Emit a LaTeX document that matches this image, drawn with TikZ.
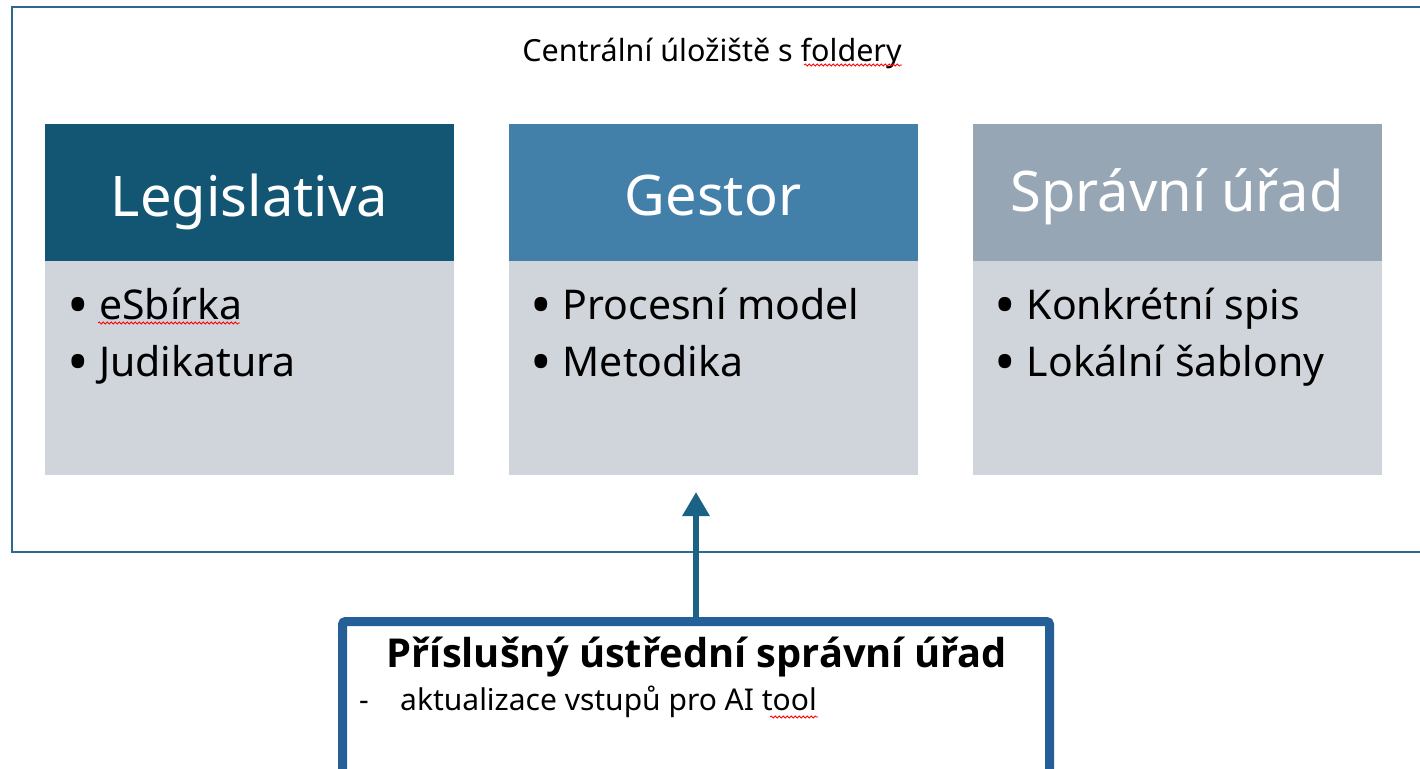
\documentclass[tikz,border=0pt]{standalone}
\usepackage{fontspec}
\setmainfont{Noto Sans}
\newfontfamily\boldsans{Open Sans}
\usetikzlibrary{arrows.meta,decorations.pathmorphing}
\definecolor{frameC}{HTML}{2A6A8C}
\definecolor{legC}{HTML}{135674}
\definecolor{gesC}{HTML}{4280AA}
\definecolor{sprC}{HTML}{97A6B4}
\definecolor{bodyC}{HTML}{D0D5DC}
\definecolor{arrC}{HTML}{1B6284}
\definecolor{boxC}{HTML}{245F98}
\tikzset{
  hdr/.style={rectangle, minimum width=409pt, minimum height=137pt, inner sep=0pt, outer sep=0pt},
  htext/.style={anchor=base, inner sep=0pt, text=white, font=\fontsize{56}{60}\selectfont},
  bodybox/.style={rectangle, fill=bodyC, minimum width=409pt, minimum height=214pt, inner sep=0pt, outer sep=0pt, anchor=north},
  items/.style={anchor=base west, inner sep=0pt, align=left, font=\fontsize{41}{57}\selectfont},
  spell/.style={red, line width=0.8pt, decorate, decoration={snake, amplitude=1pt, segment length=4pt}}
}
\newcommand{\bul}{\makebox[33pt][l]{\hspace{1pt}\raisebox{-6pt}{\scalebox{1.4}{•}}}}
\begin{document}
\begin{tikzpicture}[x=1pt,y=-1pt]
\useasboundingbox (0,0) rectangle (1420,768);
\clip (0,0) rectangle (1420,768);
\fill[white] (0,0) rectangle (1420,768);
% outer frame
\draw[frameC, line width=2pt] (1425,7) -- (12,7) -- (12,552) -- (1425,552);
\node[inner sep=0pt, anchor=base, font=\fontsize{30.5}{32}\selectfont] (title) at (712,61) {Centrální úložiště s foldery};
% headers
\node[hdr, fill=legC] (hleg) at (249.5,192.5) {};
\node[hdr, fill=gesC] (hges) at (713,192.5) {};
\node[hdr, fill=sprC] (hspr) at (1177,192.5) {};
\node[htext] (tleg) at (249.5,216) {Legislativa};
\node[htext] (tges) at (713,215) {Gestor};
\node[htext] (tspr) at (1177,211) {Správní úřad};
% bodies
\node[bodybox] (bleg) at (hleg.south) {};
\node[bodybox] (bges) at (hges.south) {};
\node[bodybox] (bspr) at (hspr.south) {};
\node[items] (ileg) at ([xshift=21pt,yshift=-115pt]bleg.north west) {\bul eSbírka\\\bul Judikatura};
\node[items] (iges) at ([xshift=21pt,yshift=-115pt]bges.north west) {\bul Procesní model\\\bul Metodika};
\node[items] (ispr) at ([xshift=21pt,yshift=-115pt]bspr.north west) {\bul Konkrétní spis\\\bul Lokální šablony};
% bottom box
\node[draw=boxC, line width=9pt, rounded corners=3pt, rectangle, minimum width=707pt, minimum height=170pt, anchor=north west, inner sep=0pt, outer sep=0pt] (pb) at (342.5,621.5) {};
\node[font=\fontsize{39.8}{42}\selectfont\boldsans\bfseries, inner sep=0pt, anchor=base] (pbt) at (697,667) {Příslušný ústřední správní úřad};
\node[font=\fontsize{30}{32}\selectfont, inner sep=0pt, anchor=base west] (pbd) at (359,710) {-};
\node[font=\fontsize{30}{32}\selectfont, inner sep=0pt, anchor=base west] (pbs) at (400,710) {aktualizace vstupů pro AI tool};
% arrow
\coordinate (as) at (696,617);
\coordinate (ae) at (696,492);
\draw[arrC, line width=6pt, -{Triangle[length=24pt,width=26pt]}] (as) -- (ae);
% spellcheck marks
\draw[spell] (804,65) -- (902,65);
\draw[spell] (98,323) -- (240,323);
\draw[spell] (770,717) -- (818,717);
\end{tikzpicture}
\end{document}
